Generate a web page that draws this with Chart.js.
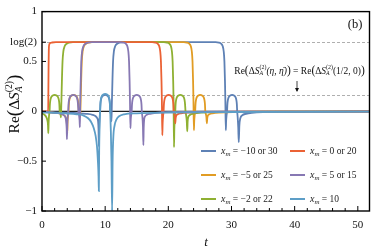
<!DOCTYPE html>
<html lang="en">
<head>
<meta charset="UTF-8">
<title>Re(ΔS) vs t</title>
<script src="https://cdn.jsdelivr.net/npm/chart.js@4"></script>
<style>
  html, body { margin: 0; padding: 0; background: #fff; }
  #wrap { width: 374px; height: 251px; position: relative; }
</style>
</head>
<body>
<div id="wrap"><canvas id="chart"></canvas></div>
<script>
// values: [t, Re(ΔS)]
const blueCurve = [[0,-0.01],[2,-0.012],[5,-0.015],[7,-0.025],[8,-0.035],[8.5,-0.05],[8.75,-0.07],[8.88,-0.1],[8.95,-0.18],[9.0,-0.35],
  [9.05,-0.17],[9.12,-0.07],[9.2,0],[9.25,0.07],[9.32,0.11],[9.45,0.14],[9.7,0.158],[10.0,0.165],[10.3,0.158],[10.55,0.14],[10.68,0.11],[10.75,0.07],[10.8,0],[10.88,-0.02],[10.95,-0.05],[11.0,-0.1],
  [11.05,0.05],[11.15,0.3],[11.25,0.5],[11.38,0.6],[11.6,0.655],[11.9,0.678],[12.3,0.689],[12.9,0.693],
  [27.5,0.693],[28.0,0.689],[28.35,0.678],[28.6,0.655],[28.77,0.6],[28.88,0.5],[28.97,0.3],[29.03,0.1],[29.1,-0.19],
  [29.15,-0.1],[29.22,-0.04],[29.3,0],[29.35,0.07],[29.42,0.11],[29.55,0.14],[29.8,0.158],[30.1,0.165],[30.4,0.158],[30.65,0.14],[30.78,0.11],[30.85,0.07],[30.9,0],[30.98,-0.06],[31.07,-0.16],[31.15,-0.31],
  [31.25,-0.14],[31.4,-0.07],[31.7,-0.04],[32.3,-0.025],[33.2,-0.015],[35,-0.008],[40,-0.005],[51.9,-0.003]];
const orangeCurve = [[0,-0.005],[1.5,-0.01],[2.5,-0.018],[3.2,-0.03],[3.6,-0.045],[3.8,-0.07],[3.9,-0.1],[3.96,-0.15],[4.0,-0.22],
  [4.05,-0.11],[4.12,-0.04],[4.2,0],[4.25,0.07],[4.32,0.11],[4.45,0.14],[4.7,0.158],[5.0,0.165],[5.3,0.158],[5.55,0.14],[5.68,0.11],[5.75,0.07],[5.82,0],[5.92,-0.02],[6.0,-0.04],[6.05,-0.06],
  [6.1,0.05],[6.2,0.3],[6.3,0.5],[6.43,0.6],[6.65,0.655],[6.95,0.678],[7.35,0.689],[7.95,0.693],
  [22.45,0.693],[22.95,0.689],[23.3,0.678],[23.55,0.655],[23.72,0.6],[23.83,0.5],[23.92,0.3],[23.98,0.1],[24.05,-0.19],
  [24.1,-0.1],[24.17,-0.04],[24.25,0],[24.3,0.07],[24.37,0.11],[24.5,0.14],[24.75,0.158],[25.05,0.165],[25.35,0.158],[25.6,0.14],[25.73,0.11],[25.8,0.07],[25.85,0],[25.95,-0.03],[26.03,-0.06],[26.1,-0.12],
  [26.16,-0.07],[26.25,-0.045],[26.5,-0.03],[27,-0.02],[28,-0.012],[31,-0.007],[40,-0.004],[51.9,-0.002]];
const greenCurve = [[0,-0.02],[0.4,-0.035],[0.7,-0.06],[0.85,-0.09],[0.95,-0.14],[1.0,-0.22],
  [1.05,-0.11],[1.12,-0.04],[1.2,0],[1.25,0.07],[1.32,0.11],[1.45,0.14],[1.7,0.158],[2.0,0.165],[2.3,0.158],[2.55,0.14],[2.68,0.11],[2.75,0.07],[2.8,0],[2.9,-0.02],[2.96,-0.04],[3.0,-0.06],
  [3.05,0.05],[3.15,0.3],[3.25,0.5],[3.38,0.6],[3.6,0.655],[3.9,0.678],[4.3,0.689],[4.9,0.693],
  [19.3,0.693],[19.8,0.689],[20.15,0.678],[20.4,0.655],[20.57,0.6],[20.68,0.5],[20.77,0.3],[20.83,0.1],[20.9,-0.36],
  [20.95,-0.18],[21.02,-0.07],[21.1,0],[21.15,0.07],[21.22,0.11],[21.35,0.14],[21.6,0.158],[21.9,0.165],[22.2,0.158],[22.45,0.14],[22.58,0.11],[22.65,0.07],[22.72,0],[22.82,-0.04],[22.92,-0.1],[23.0,-0.2],
  [23.06,-0.1],[23.15,-0.06],[23.35,-0.04],[23.7,-0.028],[24.5,-0.018],[26,-0.01],[30,-0.006],[40,-0.004],[51.9,-0.002]];
const redCurve = [[0,0],[0.98,0],[1.01,0.2],[1.04,0.45],[1.08,0.62],[1.15,0.67],[1.3,0.685],[1.6,0.69],[2.2,0.693],
  [17.45,0.693],[17.95,0.689],[18.3,0.678],[18.55,0.655],[18.72,0.6],[18.83,0.5],[18.92,0.3],[18.98,0.1],[19.05,-0.24],
  [19.1,-0.12],[19.17,-0.05],[19.25,0],[19.3,0.07],[19.37,0.11],[19.5,0.14],[19.75,0.158],[20.05,0.165],[20.35,0.158],[20.6,0.14],[20.73,0.11],[20.8,0.07],[20.85,0],[20.95,-0.03],[21.03,-0.06],[21.1,-0.12],
  [21.16,-0.07],[21.25,-0.045],[21.5,-0.03],[22,-0.02],[23,-0.012],[26,-0.007],[35,-0.004],[51.9,-0.002]];
const purpleCurve = [[0,-0.005],[1.5,-0.01],[2.5,-0.018],[3.2,-0.03],[3.55,-0.045],[3.75,-0.07],[3.85,-0.12],[3.91,-0.18],[3.95,-0.28],
  [4.0,-0.14],[4.07,-0.05],[4.15,0],[4.2,0.07],[4.27,0.11],[4.4,0.14],[4.65,0.158],[4.95,0.165],[5.25,0.158],[5.5,0.14],[5.63,0.11],[5.7,0.07],[5.77,0],[5.87,-0.04],[5.95,-0.09],[6.0,-0.16],
  [6.04,0.05],[6.13,0.3],[6.22,0.5],[6.35,0.6],[6.57,0.655],[6.87,0.678],[7.27,0.689],[7.87,0.693],
  [12.4,0.693],[12.9,0.689],[13.25,0.678],[13.5,0.655],[13.67,0.6],[13.78,0.5],[13.87,0.3],[13.93,0.1],[14.0,-0.17],
  [14.05,-0.085],[14.12,-0.035],[14.2,0],[14.25,0.07],[14.32,0.11],[14.45,0.14],[14.7,0.158],[15.0,0.165],[15.3,0.158],[15.55,0.14],[15.68,0.11],[15.75,0.07],[15.8,0],[15.9,-0.06],[15.98,-0.15],[16.05,-0.34],
  [16.1,-0.17],[16.18,-0.08],[16.32,-0.05],[16.6,-0.035],[17.1,-0.025],[18,-0.015],[20,-0.008],[30,-0.004],[51.9,-0.002]];
const lightBlueCurve = [[0,-0.01],[2,-0.015],[4,-0.022],[5.5,-0.03],[6.5,-0.04],[7.3,-0.07],[7.8,-0.11],[8.2,-0.17],[8.5,-0.25],[8.7,-0.35],[8.85,-0.5],[8.95,-0.65],[9.0,-0.8],
  [9.05,-0.4],[9.12,-0.15],[9.2,0],[9.25,0.08],[9.32,0.12],[9.45,0.15],[9.7,0.168],[10.0,0.175],[10.3,0.168],[10.55,0.15],[10.68,0.12],[10.75,0.08],[10.8,0],[10.9,-0.2],[11.0,-0.5],[11.1,-1.0],
  [11.18,-0.5],[11.3,-0.25],[11.5,-0.14],[11.8,-0.08],[12.2,-0.05],[13,-0.03],[15,-0.02],[20,-0.012],[30,-0.007],[51.9,-0.004]];

const seriesData = [blueCurve, orangeCurve, greenCurve, redCurve, purpleCurve, lightBlueCurve];
const seriesLabels = ['\u221210 or 30', '\u22125 or 25', '\u22122 or 22', '0 or 20', '5 or 15', '10'];
const seriesColors = ['#5e81b5', '#e19c24', '#8fb032', '#eb6235', '#8778b3', '#5d9ec7'];

const yTickValues = [-1, -0.5, 0, 0.5, 0.6931, 1];
const yTickLabels = ['\u22121', '\u22120.5', '0', '0.5', 'log(2)', '1'];
const xMinorTicks = [0, 2, 4, 6, 8, 10, 12, 14, 16, 18, 20, 22, 24, 26, 28, 30, 32, 34, 36, 38, 40, 42, 44, 46, 48, 50];
const xTickLabels = [0, 10, 20, 30, 40, 50];
const refLines = [0.6931, 0.168];   // log(2) and Re(ΔS(1/2,0))

const SERIF = '"Liberation Serif", "DejaVu Serif", serif';

function layoutRich(ctx, parts) {
  let x = 0, prevStart = 0, prevW = 0;
  const items = [];
  for (const p of parts) {
    ctx.font = (p.i ? 'italic ' : '') + p.s + 'px ' + SERIF;
    const w = ctx.measureText(p.t).width;
    let start = x;
    if (p.st) { start = prevStart; x = Math.max(prevStart + prevW, start + w); }
    else x = start + w;
    items.push({ p, start });
    prevStart = start; prevW = w;
  }
  return { items, width: x };
}

function drawRich(ctx, x, y, parts, align) {
  const lay = layoutRich(ctx, parts);
  const x0 = align === 'center' ? x - lay.width / 2 : x;
  ctx.textBaseline = 'middle';
  ctx.textAlign = 'left';
  for (const it of lay.items) {
    ctx.font = (it.p.i ? 'italic ' : '') + it.p.s + 'px ' + SERIF;
    ctx.fillText(it.p.t, x0 + it.start, y + (it.p.dy || 0));
  }
}

function deltaS(s, parenS) {
  return [
    { t: 'Re', s }, { t: '(', s: parenS }, { t: '\u0394', s }, { t: 'S', s, i: true },
    { t: 'A', s: s * 0.62, i: true, dy: s * 0.3 }, { t: '(2)', s: s * 0.62, dy: -s * 0.38, st: true }
  ];
}

const decor = {
  id: 'decor',
  beforeDatasetsDraw(chart) {
    const { ctx, chartArea: a, scales: { y } } = chart;
    ctx.save();
    ctx.strokeStyle = '#9a9a9a';
    ctx.lineWidth = 0.8;
    ctx.setLineDash([3, 2]);
    for (const v of refLines) {
      const py = Math.round(y.getPixelForValue(v)) + 0.5;
      ctx.beginPath(); ctx.moveTo(a.left, py); ctx.lineTo(a.right, py); ctx.stroke();
    }
    ctx.setLineDash([]);
    ctx.strokeStyle = '#222';
    ctx.lineWidth = 1.3;
    const y0 = y.getPixelForValue(0);
    ctx.beginPath(); ctx.moveTo(a.left, y0); ctx.lineTo(a.right, y0); ctx.stroke();
    ctx.restore();
  },
  afterDatasetsDraw(chart) {
    const { ctx, chartArea: a, scales: { x, y } } = chart;
    ctx.save();
    // frame
    ctx.strokeStyle = '#000';
    ctx.lineWidth = 1.4;
    ctx.strokeRect(a.left, a.top, a.right - a.left, a.bottom - a.top);
    // inward ticks
    ctx.lineWidth = 1;
    for (const t of x.ticks) {
      const px = x.getPixelForValue(t.value);
      const len = xTickLabels.includes(t.value) ? 5 : 3;
      ctx.beginPath(); ctx.moveTo(px, a.bottom); ctx.lineTo(px, a.bottom - len); ctx.stroke();
    }
    for (const t of y.ticks) {
      const py = y.getPixelForValue(t.value);
      ctx.beginPath(); ctx.moveTo(a.left, py); ctx.lineTo(a.left + 4, py); ctx.stroke();
    }
    ctx.restore();
  },
  afterDraw(chart) {
    const { ctx } = chart;
    ctx.save();
    ctx.fillStyle = '#111';
    // axis titles
    ctx.save();
    ctx.translate(15, 104);
    ctx.rotate(-Math.PI / 2);
    drawRich(ctx, 0, 0, deltaS(15.5, 19).concat([{ t: ')', s: 19 }]), 'center');
    ctx.restore();
    ctx.font = 'italic 13px ' + SERIF;
    ctx.textAlign = 'center';
    ctx.textBaseline = 'middle';
    ctx.fillText('t', 206, 243);
    // panel tag
    ctx.font = '12.5px ' + SERIF;
    ctx.fillText('(b)', 355, 25);
    // annotation
    const ann = deltaS(9.5, 11.5).concat([{ t: '(\u03b7, \u03b7\u0304)', s: 9.5, i: true }, { t: ')', s: 11.5 }, { t: ' = ', s: 9.5 }])
      .concat(deltaS(9.5, 11.5)).concat([{ t: '(1/2, 0)', s: 9.5 }, { t: ')', s: 11.5 }]);
    drawRich(ctx, 299.5, 71, ann, 'center');
    ctx.strokeStyle = '#111';
    ctx.lineWidth = 0.8;
    ctx.beginPath(); ctx.moveTo(297, 81); ctx.lineTo(297, 91); ctx.stroke();
    ctx.beginPath(); ctx.moveTo(295, 88); ctx.lineTo(297, 92); ctx.lineTo(299, 88); ctx.closePath(); ctx.fill();
    // legend, two columns of three
    const cols = [201, 290];
    const rows = [151, 175, 199];
    seriesLabels.forEach((lab, i) => {
      const cx = cols[Math.floor(i / 3)], cy = rows[i % 3];
      ctx.strokeStyle = seriesColors[i];
      ctx.lineWidth = 2;
      ctx.beginPath(); ctx.moveTo(cx, cy); ctx.lineTo(cx + 15, cy); ctx.stroke();
      ctx.fillStyle = '#222';
      drawRich(ctx, cx + 20, cy, [
        { t: 'x', s: 10, i: true }, { t: 'm', s: 7, i: true, dy: 3 }, { t: ' = ' + lab, s: 9.5 }
      ], 'left');
    });
    ctx.restore();
  }
};

new Chart(document.getElementById('chart'), {
  type: 'line',
  data: {
    datasets: seriesData.map((d, i) => ({
      label: seriesLabels[i],
      data: d.map(p => ({ x: p[0], y: p[1] })),
      borderColor: seriesColors[i],
      borderWidth: 1.8,
      pointRadius: 0,
      fill: false,
      cubicInterpolationMode: 'monotone',
      order: seriesData.length - i
    }))
  },
  options: {
    responsive: true,
    maintainAspectRatio: false,
    animation: false,
    events: [],
    layout: { padding: { top: 11, right: 4.5, left: 0, bottom: 0 } },
    plugins: { legend: { display: false }, tooltip: { enabled: false } },
    scales: {
      x: {
        type: 'linear', min: 0, max: 51.85,
        afterBuildTicks: s => { s.ticks = xMinorTicks.map(v => ({ value: v })); },
        afterFit: s => { s.height = 40; },
        grid: { display: false, drawTicks: false },
        border: { display: false },
        ticks: {
          autoSkip: false, maxRotation: 0, padding: 8,
          color: '#111', font: { family: SERIF, size: 11 },
          callback: v => xTickLabels.includes(v) ? String(v) : ''
        }
      },
      y: {
        type: 'linear', min: -1, max: 1,
        afterBuildTicks: s => { s.ticks = yTickValues.map(v => ({ value: v })); },
        afterFit: s => { s.width = 42; },
        grid: { display: false, drawTicks: false },
        border: { display: false },
        ticks: {
          padding: 5, color: '#111', font: { family: SERIF, size: 11 },
          callback: v => yTickLabels[yTickValues.indexOf(v)]
        }
      }
    }
  },
  plugins: [decor]
});
</script>
</body>
</html>
